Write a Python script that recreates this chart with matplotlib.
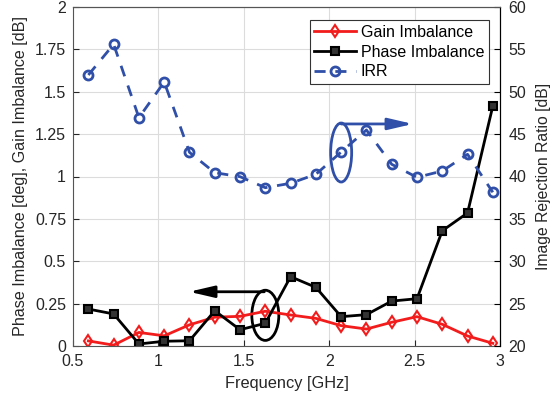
import matplotlib
matplotlib.use("Agg")
import matplotlib.pyplot as plt
from matplotlib.patches import Ellipse

plt.rcParams["font.family"] = ["Liberation Sans", "DejaVu Sans"]
plt.rcParams["font.size"] = 10

# frequencias (GHz)
freq = [0.59, 0.738, 0.886, 1.034, 1.182, 1.33, 1.478, 1.626, 1.774,
        1.922, 2.07, 2.218, 2.366, 2.514, 2.662, 2.81, 2.958]
gain_imb = [0.03, 0.005, 0.08, 0.06, 0.125, 0.17, 0.175, 0.205, 0.183,
            0.163, 0.12, 0.10, 0.14, 0.173, 0.128, 0.059, 0.016]
phase_imb = [0.218, 0.189, 0.012, 0.028, 0.031, 0.208, 0.096, 0.134, 0.409,
             0.346, 0.173, 0.185, 0.265, 0.279, 0.68, 0.785, 1.416]
irr = [51.98, 55.6, 46.94, 51.15, 42.85, 40.45, 39.98, 38.68, 39.2,
       40.26, 42.89, 45.49, 41.44, 39.9, 40.65, 42.62, 38.14]

RED = "#f21c1c"
BLUE = "#2f4fa8"
GRAY = "#262626"

fig = plt.figure(figsize=(5.57, 3.98), dpi=100)
ax = fig.add_axes([73 / 557, 1 - 346 / 398, 427 / 557, 339 / 398])
ax2 = ax.twinx()

lg, = ax.plot(freq, gain_imb, color=RED, lw=2, marker="d", ms=6.5,
              mfc="none", mec=RED, mew=1.5, label="Gain Imbalance")
lp, = ax.plot(freq, phase_imb, color="black", lw=2, marker="s", ms=6,
              mfc="#333333", mec="black", mew=1.5, label="Phase Imbalance")
li, = ax2.plot(freq, irr, color=BLUE, lw=2, ls=(0, (4, 3.5)), marker="o", ms=6.5,
               mfc="none", mec=BLUE, mew=2, label="IRR")

ax.set_xlim(0.5, 3)
ax.set_ylim(0, 2)
ax2.set_ylim(20, 60)
ax.set_xticks([0.5, 1, 1.5, 2, 2.5, 3])
ax.set_xticklabels(["0.5", "1", "1.5", "2", "2.5", "3"])
ax.set_yticks([0, 0.25, 0.5, 0.75, 1, 1.25, 1.5, 1.75, 2])
ax.set_yticklabels(["0", "0.25", "0.5", "0.75", "1", "1.25", "1.5", "1.75", "2"])
ax2.set_yticks(range(20, 61, 5))

ax.grid(True, color="#dcdcdc", lw=0.8)
ax.set_axisbelow(True)
for a in (ax, ax2):
    a.tick_params(direction="in", length=4, labelsize=11.5, colors=GRAY)
ax.tick_params(axis="x", pad=6)
ax.tick_params(axis="y", pad=5)
ax2.tick_params(colors="black", labelcolor=GRAY, pad=6)
for s in ["left", "bottom", "top"]:
    ax.spines[s].set_color("#555555")
ax2.spines["right"].set_color("black")
ax2.spines["left"].set_visible(False)
ax2.spines["top"].set_color("#555555")
ax2.spines["bottom"].set_visible(False)

ax.set_xlabel("Frequency [GHz]", fontsize=11.8, color=GRAY, labelpad=5)
ax.set_ylabel("Phase Imbalance [deg], Gain Imbalance [dB]", fontsize=11.6,
              color=GRAY, labelpad=5)
ax2.set_ylabel("Image Rejection Ratio [dB]", fontsize=11.3, color=GRAY, labelpad=7)

leg = ax2.legend(handles=[lg, lp, li], loc="upper right",
                 bbox_to_anchor=(489 / 427 - 73 / 427, 1 - 13 / 339), fontsize=11.5,
                 handlelength=2.6, handletextpad=0.3, borderpad=0.3,
                 labelspacing=0.3, fancybox=False, framealpha=1, borderaxespad=0)
leg.get_frame().set_edgecolor("#333333")
leg.get_frame().set_linewidth(0.8)

# anotacoes: elipse + seta indicando o eixo de cada curva
arrow = "-|>,head_length=1.5,head_width=0.35"
ax2.add_patch(Ellipse((2.07, 42.83), 0.123, 6.96, fill=False, ec=BLUE, lw=2))
ax2.annotate("", xy=(2.49, 46.2), xytext=(2.07, 46.2),
             arrowprops=dict(arrowstyle=arrow, color=BLUE, lw=2,
                             shrinkA=0, shrinkB=0))
ax.add_patch(Ellipse((1.626, 0.181), 0.158, 0.296, fill=False, ec="black", lw=2))
ax.annotate("", xy=(1.18, 0.32), xytext=(1.62, 0.32),
            arrowprops=dict(arrowstyle=arrow, color="black", lw=2,
                            shrinkA=0, shrinkB=0))

fig.savefig("out.png", dpi=100)
